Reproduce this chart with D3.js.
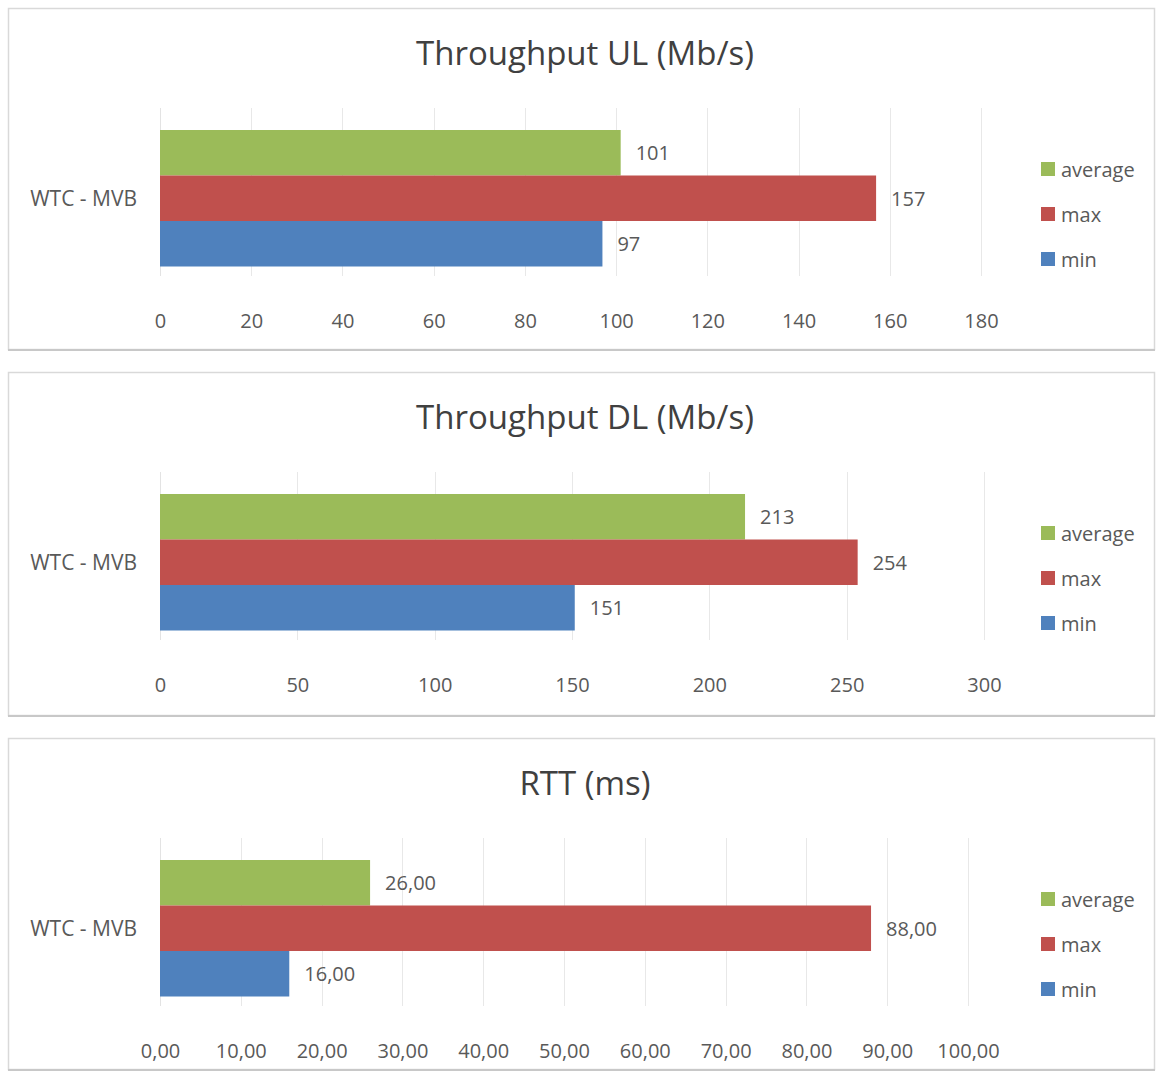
<!DOCTYPE html>
<html>
<head>
<meta charset="utf-8">
<script src="https://cdn.jsdelivr.net/npm/d3@7"></script>
<style>
  html, body { margin: 0; padding: 0; background: #ffffff; }
  svg { display: block; font-family: "Open Sans", "Noto Sans", sans-serif; }
</style>
</head>
<body>
<svg id="chart" width="1156" height="1072"></svg>
<script>
// Series, drawn top to bottom in each panel
const seriesNames = ["average", "max", "min"];
const seriesColors = ["#9bbb59", "#c0504d", "#4f81bd"];
const category = "WTC - MVB";

// Throughput UL (Mb/s)
const ulValues = [101, 157, 97];
const ulTicks = [0, 20, 40, 60, 80, 100, 120, 140, 160, 180];

// Throughput DL (Mb/s)
const dlValues = [213, 254, 151];
const dlTicks = [0, 50, 100, 150, 200, 250, 300];

// RTT (ms)
const rttValues = [26.00, 88.00, 16.00];
const rttTicks = [0, 10, 20, 30, 40, 50, 60, 70, 80, 90, 100];

const svg = d3.select("#chart");
const commaFmt = d => d3.format(".2f")(d).replace(".", ",");

function drawPanel(p) {
  const g = svg.append("g").attr("transform", `translate(0,${p.top})`);

  // frame
  g.append("rect")
    .attr("x", 8.5).attr("y", 0.5)
    .attr("width", 1146).attr("height", p.height)
    .attr("fill", "#ffffff")
    .attr("stroke", "#d9d9d9").attr("stroke-width", 1.5);
  g.append("line")
    .attr("x1", 8).attr("x2", 1155)
    .attr("y1", p.height + 1).attr("y2", p.height + 1)
    .attr("stroke", "#c8c8c8").attr("stroke-width", 2);

  // title
  g.append("text")
    .attr("x", 585).attr("y", 44)
    .attr("text-anchor", "middle").attr("dominant-baseline", "central")
    .attr("font-size", 33).attr("fill", "#404040")
    .text(p.title);

  const plotTop = 100, plotBottom = 268;
  const x = d3.scaleLinear()
    .domain([p.ticks[0], p.ticks[p.ticks.length - 1]])
    .range([160, p.xEnd]);

  const y = d3.scaleBand()
    .domain(seriesNames)
    .range([122, 122 + 3 * 45.5])
    .padding(0);

  // vertical gridlines
  g.append("g").selectAll("line")
    .data(p.ticks.slice(1))
    .join("line")
    .attr("x1", d => Math.round(x(d)) + 0.5).attr("x2", d => Math.round(x(d)) + 0.5)
    .attr("y1", plotTop).attr("y2", plotBottom)
    .attr("stroke", "#e8e8e8").attr("stroke-width", 1);

  // category axis line
  g.append("line")
    .attr("x1", 160.5).attr("x2", 160.5)
    .attr("y1", plotTop).attr("y2", plotBottom)
    .attr("stroke", "#e3e3e3").attr("stroke-width", 1);

  // bars
  g.append("g").selectAll("rect")
    .data(p.values)
    .join("rect")
    .attr("x", x(0))
    .attr("y", (d, i) => y(seriesNames[i]))
    .attr("width", d => x(d) - x(0))
    .attr("height", y.bandwidth())
    .attr("fill", (d, i) => seriesColors[i]);

  // value labels
  g.append("g").selectAll("text")
    .data(p.values)
    .join("text")
    .attr("x", d => x(d) + 15)
    .attr("y", (d, i) => y(seriesNames[i]) + y.bandwidth() / 2)
    .attr("dominant-baseline", "central")
    .attr("font-size", 20).attr("fill", "#595959")
    .text(d => p.fmt(d));

  // category label
  g.append("text")
    .attr("x", 137).attr("y", 122 + 1.5 * 45.5)
    .attr("text-anchor", "end").attr("dominant-baseline", "central")
    .attr("font-size", 21).attr("fill", "#595959")
    .text(category);

  // value axis
  const axis = d3.axisBottom(x).tickValues(p.ticks).tickFormat(p.fmt).tickSize(0).tickPadding(0);
  const ax = g.append("g").attr("transform", "translate(0,312)").call(axis);
  ax.select(".domain").remove();
  ax.selectAll("text")
    .attr("dy", null).attr("y", 0)
    .attr("dominant-baseline", "central")
    .attr("font-size", 20).attr("fill", "#595959")
    .attr("font-family", "'Open Sans', 'Noto Sans', sans-serif");

  // legend
  const lg = g.append("g").selectAll("g")
    .data(seriesNames)
    .join("g")
    .attr("transform", (d, i) => `translate(1041,${161 + i * 45})`);
  lg.append("rect")
    .attr("x", 0).attr("y", -7).attr("width", 14).attr("height", 14)
    .attr("fill", (d, i) => seriesColors[i]);
  lg.append("text")
    .attr("x", 20).attr("y", 0)
    .attr("dominant-baseline", "central")
    .attr("font-size", 20).attr("fill", "#595959")
    .text(d => d);
}

drawPanel({ top: 8, height: 341, title: "Throughput UL (Mb/s)", values: ulValues, ticks: ulTicks, xEnd: 981, fmt: d3.format("d") });
drawPanel({ top: 372, height: 343, title: "Throughput DL (Mb/s)", values: dlValues, ticks: dlTicks, xEnd: 984, fmt: d3.format("d") });
drawPanel({ top: 738, height: 331, title: "RTT (ms)", values: rttValues, ticks: rttTicks, xEnd: 968, fmt: commaFmt });
</script>
</body>
</html>
